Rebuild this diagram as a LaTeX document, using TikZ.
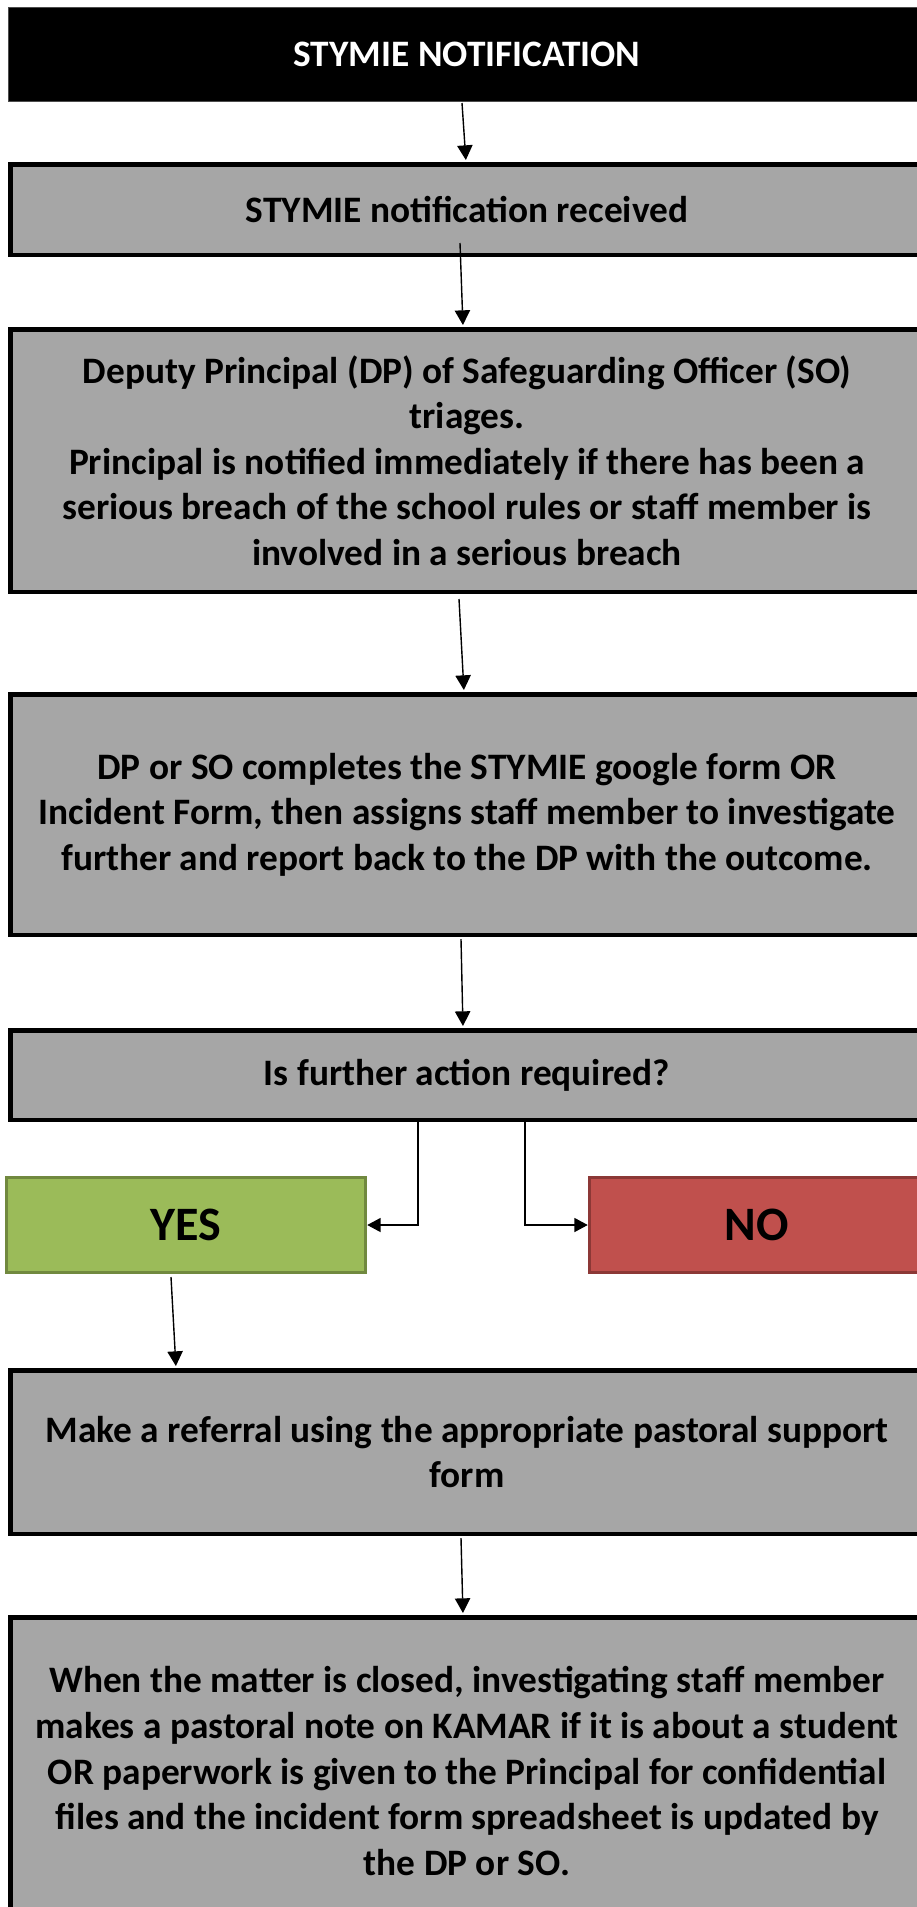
\documentclass[tikz,border=0pt]{standalone}
\usepackage{fontspec}
\setmainfont{Carlito}
\usetikzlibrary{arrows.meta,calc}
\newdimen\pxu \pxu=0.75pt
\definecolor{boxgray}{HTML}{A6A6A6}
\definecolor{yesfill}{HTML}{9BBB59}
\definecolor{yesdraw}{HTML}{71893F}
\definecolor{nofill}{HTML}{C0504D}
\definecolor{nodraw}{HTML}{8C3836}
\tikzset{
  graybox/.style={fill=boxgray, draw=black, line width=4.5\pxu, inner sep=0pt, align=center,
    font=\bfseries\fontsize{28}{34.2}\selectfont, text=black},
  titlebox/.style={fill=black, draw=gray!60!black, line width=1.2\pxu, inner sep=0pt, align=center,
    font=\bfseries\fontsize{28}{34.2}\selectfont, text=white},
  choice/.style={line width=3.5\pxu, inner sep=0pt, align=center,
    font=\bfseries\fontsize{36}{42}\selectfont, text=black},
  arr/.style={line width=1.05pt, -{Triangle[length=11pt, width=11.5pt]}, shorten >=1.5pt},
  elb/.style={line width=1.05pt, -{Triangle[length=10pt, width=10.5pt]}},
}
\begin{document}
\begin{tikzpicture}[x=0.75pt, y=-0.75pt]
\clip (0,0) rectangle (917,1907);
\fill[white] (0,0) rectangle (917,1907);

\node[titlebox, minimum width=917\pxu, minimum height=94\pxu] (t) at (467,54.5) {STYMIE NOTIFICATION};
\node[graybox, minimum width=913\pxu, minimum height=90.5\pxu] (b2) at (467,209.5) {STYMIE notification received};
\node[graybox, minimum width=913\pxu, minimum height=262.5\pxu] (b3) at (467,460.5)
  {Deputy Principal (DP) of Safeguarding Officer (SO)\\ triages.\\ Principal is notified immediately if there has been a\\ serious breach of the school rules or staff member is\\ involved in a serious breach};
\node[graybox, minimum width=913\pxu, minimum height=240.5\pxu] (b4) at (467,814.5)
  {DP or SO completes the STYMIE google form OR\\ Incident Form, then assigns staff member to investigate\\ further and report back to the DP with the outcome.};
\node[graybox, minimum width=913\pxu, minimum height=89.5\pxu] (b5) at (467,1075) {Is further action required?};
\node[choice, fill=yesfill, draw=yesdraw, minimum width=359\pxu, minimum height=95\pxu] (yes) at (186,1225) {YES};
\node[choice, fill=nofill, draw=nodraw, minimum width=335\pxu, minimum height=95\pxu] (no) at (757,1225) {NO};
\node[graybox, minimum width=913\pxu, minimum height=163.5\pxu] (b6) at (467,1452)
  {Make a referral using the appropriate pastoral support\\ form};
\node[graybox, minimum width=913\pxu, minimum height=307.5\pxu] (b7) at (467,1771)
  {When the matter is closed, investigating staff member\\ makes a pastoral note on KAMAR if it is about a student\\ OR paperwork is given to the Principal for confidential\\ files and the incident form spreadsheet is updated by\\ the DP or SO.};

\coordinate (s1) at (462,103);  \coordinate (e1) at (466,0);
\coordinate (s2) at (460,243);  \coordinate (e2) at (463,0);
\coordinate (s3) at (459,599);  \coordinate (e3) at (464,0);
\coordinate (s4) at (461,939);  \coordinate (e4) at (463,0);
\coordinate (s5) at (171,1277); \coordinate (e5) at (176,0);
\coordinate (s6) at (461,1538); \coordinate (e6) at (463,0);
\coordinate (ly) at (418,0);
\coordinate (ln) at (525,0);

\draw[arr] (s1) -- (e1 |- b2.north);
\draw[arr] (s2) -- (e2 |- b3.north);
\draw[arr] (s3) -- (e3 |- b4.north);
\draw[arr] (s4) -- (e4 |- b5.north);
\draw[arr] (s5) -- (e5 |- b6.north);
\draw[arr] (s6) -- (e6 |- b7.north);
\draw[elb] (ly |- b5.south) |- (yes.east);
\draw[elb] (ln |- b5.south) |- (no.west);
\end{tikzpicture}
\end{document}
